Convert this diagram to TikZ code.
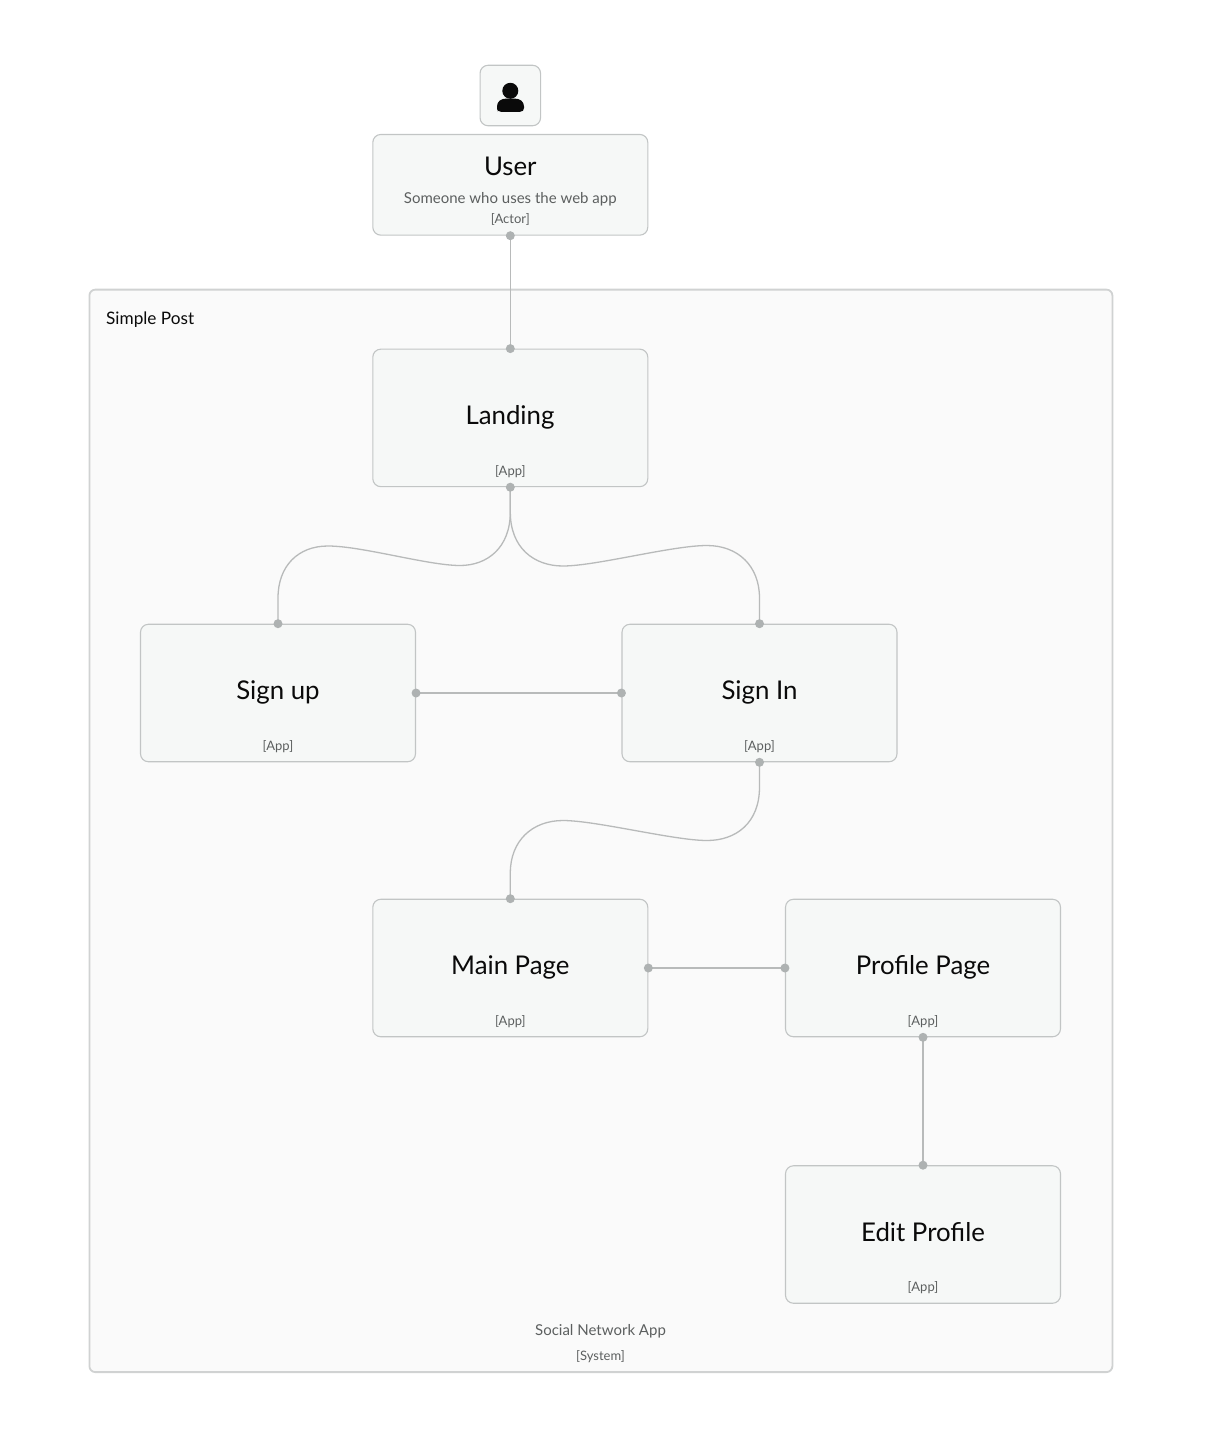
\documentclass[tikz,border=0pt]{standalone}
\usepackage{fontspec}
\setmainfont{Lato}
\definecolor{sysfill}{HTML}{FAFAFA}
\definecolor{sysline}{HTML}{D0D2D2}
\definecolor{boxfill}{HTML}{F6F8F7}
\definecolor{boxline}{HTML}{C2C5C5}
\definecolor{wire}{HTML}{B8BABA}
\definecolor{port}{HTML}{AEB2B2}
\definecolor{ink}{HTML}{0A0A0A}
\definecolor{soft}{HTML}{5C5F5F}
\tikzset{
  x=1pt,y=-1pt,
  sysbox/.style={draw=sysline,fill=sysfill,line width=1.8pt,rounded corners=6pt,inner sep=0pt,anchor=north west},
  appbox/.style={draw=boxline,fill=boxfill,line width=1.1pt,rounded corners=8pt,inner sep=0pt,minimum width=275pt,minimum height=137.5pt},
  title/.style={text=ink,font=\fontsize{25.8}{30}\selectfont,inner sep=0pt},
  tag/.style={text=soft,font=\fontsize{13}{15}\selectfont,inner sep=0pt},
  desc/.style={text=soft,font=\fontsize{15}{18}\selectfont,inner sep=0pt},
  port/.style={circle,fill=port,inner sep=0pt,minimum size=9pt},
  wire/.style={draw=wire,line width=1.3pt}
}
\begin{document}
\begin{tikzpicture}
\useasboundingbox (0,0) rectangle (1208,1454);
\node[sysbox,minimum width=1023pt,minimum height=1082.5pt] (sys) at (88.5,288.7) {};
\node[anchor=base west,inner sep=0pt,text=ink,font=\fontsize{17.2}{22}\selectfont] (systitle) at (106,324) {Simple Post};
\node[desc] (sysname) at (600.5,1331) {Social Network App};
\node[tag] (systag) at (600.5,1356.5) {[System]};

% actor
\node[draw=boxline,fill=boxfill,line width=1.1pt,rounded corners=8pt,minimum size=60.5pt,inner sep=0pt] (icon) at (510.3,95.5) {};
\fill[ink] (510.3,90.8) circle (8);
\fill[ink] (497,111.8) -- (497,106.5) .. controls (497,101.5) and (501,98.6) .. (506,98.6) -- (515,98.6) .. controls (520,98.6) and (524,101.5) .. (524,106.5) -- (524,108) .. controls (524,110.5) and (522.5,111.8) .. (520,111.8) -- (501,111.8) .. controls (498.5,111.8) and (497,110.5) .. (497,108) -- cycle;
\node[appbox,minimum height=100.7pt] (user) at (510.3,184.8) {};
\node[title] at (510.3,166.5) {User};
\node[desc] at (510.3,199) {Someone who uses the web app};
\node[tag] at (510.3,219.5) {[Actor]};

% apps
\node[appbox] (landing) at (510.3,417.9) {};
\node[title] at (510,417) {Landing};
\node[tag] at (510.3,471.5) {[App]};

\node[appbox] (signup) at (278,693) {};
\node[title] at (278,692) {Sign up};
\node[tag] at (278,746.5) {[App]};

\node[appbox] (signin) at (759.5,693) {};
\node[title] at (759.5,692) {Sign In};
\node[tag] at (759.5,746.5) {[App]};

\node[appbox] (main) at (510.3,968) {};
\node[title] at (510.3,967) {Main Page};
\node[tag] at (510.3,1021.5) {[App]};

\node[appbox] (profile) at (923,968) {};
\node[title] at (923,967) {Profile Page};
\node[tag] at (923,1021.5) {[App]};

\node[appbox] (edit) at (923,1234.5) {};
\node[title] at (923,1232.5) {Edit Profile};
\node[tag] at (923,1288) {[App]};

% connectors
\draw[wire] (user.south) -- (landing.north);
\draw[wire] (signup.east) -- (signin.west);
\draw[wire] (main.east) -- (profile.west);
\draw[wire] (profile.south) -- (edit.north);
\draw[wire] (landing.south) -- (510.3,512) .. controls (510.3,548) and (487,565.5) .. (460,565.5) .. controls (428,565.5) and (362,546) .. (328,546) .. controls (298,546) and (278,566) .. (278,598) -- (signup.north);
\draw[wire] (landing.south) -- (510.3,512) .. controls (510.3,548) and (534,566) .. (563,566) .. controls (596,566) and (672,545.5) .. (707,545.5) .. controls (738,545.5) and (759.5,566) .. (759.5,598) -- (signin.north);
\draw[wire] (signin.south) -- (759.5,787) .. controls (759.5,823) and (736,840.5) .. (707,840.5) .. controls (674,840.5) and (596,820.5) .. (563,820.5) .. controls (532,820.5) and (510.3,841) .. (510.3,873) -- (main.north);

% ports
\foreach \n/\a in {user/south,landing/north,landing/south,signup/north,signin/north,signup/east,signin/west,signin/south,main/north,main/east,profile/west,profile/south,edit/north}
  \node[port] at (\n.\a) {};
\end{tikzpicture}
\end{document}
